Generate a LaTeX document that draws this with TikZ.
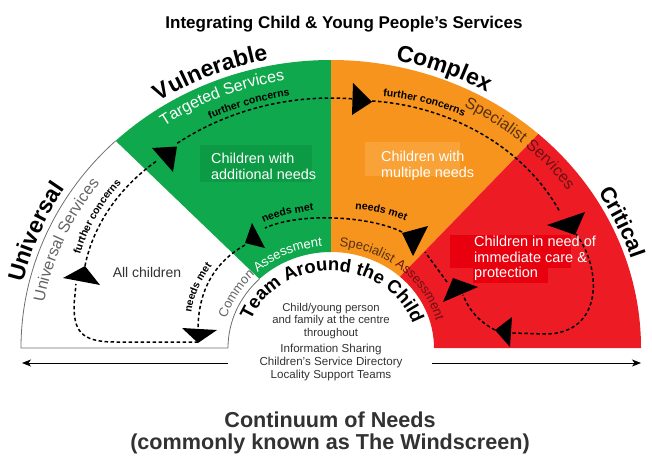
\documentclass[tikz,border=0pt]{standalone}
\usepackage{fontspec}
\setmainfont{Liberation Sans}
\usetikzlibrary{decorations.text,arrows.meta,calc}
\definecolor{cgreen}{RGB}{16,168,76}
\definecolor{cgreenbox}{RGB}{12,154,68}
\definecolor{corange}{RGB}{247,148,29}
\definecolor{corangebox}{RGB}{249,162,55}
\definecolor{cred}{RGB}{237,28,36}
\definecolor{credbox}{RGB}{232,0,14}
\definecolor{cgrayline}{RGB}{110,110,110}
\definecolor{cgraytext}{RGB}{100,100,100}
\definecolor{cdarktext}{RGB}{50,50,50}
\definecolor{cspec}{RGB}{85,48,18}
\definecolor{cspecred}{RGB}{105,18,18}
\newcommand\fBig{\bfseries\fontsize{23}{25}\selectfont}
\newcommand\fCrit{\bfseries\fontsize{22}{24}\selectfont}
\newcommand\fSec{\fontsize{16}{18}\selectfont}
\newcommand\fSm{\bfseries\fontsize{10.5}{12}\selectfont}
\newcommand\fAs{\fontsize{13}{15}\selectfont}
\newcommand\fTeam{\bfseries\fontsize{18.5}{20}\selectfont}
\tikzset{
  flow/.style={line width=1.5pt, dash pattern=on 3.5pt off 2.5pt, black},
  head/.style={fill=black},
  grayline/.style={draw=cgrayline, line width=0.8pt},
  basearrow/.style={line width=0.8pt, -{Stealth[length=9pt,width=7pt,inset=2.5pt]}},
  along/.style={decorate, decoration={text along path, text align=center, text={#1}}},
  boxtext/.style={text=white, font=\fontsize{14.4}{16}\selectfont, align=left, inner sep=0pt, anchor=west},
}
\begin{document}
\begin{tikzpicture}[x=1pt,y=1pt]
\useasboundingbox (0,0) rectangle (652,-455);
\coordinate (C) at (331,-348);

% sectors
\fill[cgreen] ($(C)+(134:310 and 288)$) arc[start angle=134,end angle=90,x radius=310,y radius=288]
  -- ($(C)+(90:103 and 96)$) arc[start angle=90,end angle=134,x radius=103,y radius=96] -- cycle;
\fill[corange] ($(C)+(90:310 and 288)$) arc[start angle=90,end angle=48,x radius=310,y radius=288]
  -- ($(C)+(48:103 and 96)$) arc[start angle=48,end angle=90,x radius=103,y radius=96] -- cycle;
\fill[cred] ($(C)+(48:310 and 288)$) arc[start angle=48,end angle=0,x radius=310,y radius=288]
  -- ($(C)+(0:103 and 96)$) arc[start angle=0,end angle=48,x radius=103,y radius=96] -- cycle;
\draw[grayline] ($(C)+(134:310 and 288)$) arc[start angle=134,end angle=180,x radius=310,y radius=288]
  -- ($(C)+(180:103 and 96)$) arc[start angle=180,end angle=134,x radius=103,y radius=96];

% boxes behind sector texts
\fill[cgreenbox] (200,-145) rectangle (312,-182);
\fill[corangebox] (365,-142) rectangle (460,-176);
\fill[credbox] (450,-235) rectangle (571,-268);
\fill[credbox] (473,-268) rectangle (548,-283);

% base arrows
\coordinate (la1) at (228,-363); \coordinate (la2) at (22,-363);
\coordinate (ra1) at (432,-363); \coordinate (ra2) at (641,-363);
\draw[basearrow] (la1) -- (la2);
\draw[basearrow] (ra1) -- (ra2);

% outer category labels
\path[along={|\fBig|Universal}] ($(C)+(187.5:316 and 294)$) arc[start angle=187.5,end angle=127.5,x radius=316,y radius=294];
\path[along={|\fBig|Vulnerable}] ($(C)+(142.5:316 and 294)$) arc[start angle=142.5,end angle=82.5,x radius=316,y radius=294];
\path[along={|\fBig|Complex}] ($(C)+(99:316 and 294)$) arc[start angle=99,end angle=39,x radius=316,y radius=294];
\path[along={|\fCrit|Critical}] ($(C)+(54.5:315 and 293)$) arc[start angle=54.5,end angle=-5.5,x radius=315,y radius=293];

% service labels
\path[along={|\fSec\color{cgraytext}|Universal Services}] ($(C)+(197:291 and 271)$) arc[start angle=197,end angle=117,x radius=291,y radius=271];
\path[along={|\fSec\color{white}|Targeted Services}] ($(C)+(152.6:291 and 271)$) arc[start angle=152.6,end angle=72.6,x radius=291,y radius=271];
\path[along={|\fSec\color{cspec}|Specialist |\fSec\color{cspecred}|Services}] ($(C)+(88.5:291 and 271)$) arc[start angle=88.5,end angle=8.5,x radius=291,y radius=271];

% assessment labels
\path[along={|\fAs\color{cgraytext}|Common |\fAs\color{white}|Assessment}] ($(C)+(179.5:109 and 102)$) arc[start angle=179.5,end angle=79.5,x radius=109,y radius=102];
\path[along={|\fAs\color{cspec}|Specialist |\fAs\color{cspecred}|Assessment}] ($(C)+(100:109 and 102)$) arc[start angle=100,end angle=0,x radius=109,y radius=102];
\path[along={|\fTeam|Team Around the Child}] ($(C)+(175:86 and 77)$) arc[start angle=175,end angle=2,x radius=86,y radius=77];

% flow labels
\path[along={|\fSm|further concerns}] (79,-258) .. controls (86,-232) and (102,-203) .. (124,-180);
\path[along={|\fSm|further concerns}] ($(C)+(120:273 and 255)$) arc[start angle=120,end angle=95,x radius=273,y radius=255];
\path[along={|\fSm|further concerns}] (374,-96) .. controls (405,-97) and (440,-105) .. (472,-120);
\path[along={|\fSm|needs met}] (258,-226) .. controls (275,-216) and (295,-212) .. (320,-210);
\path[along={|\fSm|needs met}] (348,-209) .. controls (370,-209) and (392,-214) .. (412,-224);
\path[along={|\fSm|needs met}] (191,-316) .. controls (193,-297) and (200,-280) .. (214,-263);

% flow loop coordinates
\coordinate (pI) at (198,-342);
\coordinate (pA0) at (76,-284);
\coordinate (pA) at (85,-266);
\coordinate (pB0) at (158,-160);
\coordinate (pC) at (372,-101);
\coordinate (pD0) at (560,-212);
\coordinate (pD) at (576,-234);
\coordinate (pE0) at (512,-333);
\coordinate (pE) at (495,-330);
\coordinate (pF0) at (463,-295);
\coordinate (pF) at (447,-282);
\coordinate (pG0) at (425,-252);
\coordinate (pG) at (402,-232);
\coordinate (pH0) at (265,-228);
\coordinate (pH) at (245,-245);
\coordinate (pI0) at (198,-330);

\draw[flow] (pI) -- (115,-342) .. controls (80,-342) and (74,-330) .. (74,-305) -- (pA0);
\draw[flow] (pA) .. controls (92,-230) and (115,-190) .. (pB0);
\draw[flow] ($(C)+(125:268 and 250)$) arc[start angle=125,end angle=85.5,x radius=268,y radius=250];
\draw[flow] (pC) .. controls (440,-105) and (520,-140) .. (pD0);
\draw[flow] (pD) .. controls (602,-268) and (604,-334) .. (545,-334) -- (pE0);
\draw[flow] (pE) .. controls (480,-322) and (470,-312) .. (pF0);
\draw[flow] (pF) -- (pG0);
\draw[flow] (pG) .. controls (370,-216) and (300,-212) .. (pH0);
\draw[flow] (pH) .. controls (215,-262) and (198,-290) .. (pI0);

% arrow heads
\fill[head] (63,-278) -- (85,-266) -- (100,-285) -- cycle;
\fill[head] (152,-148) -- (177,-146.5) -- (173,-172) -- cycle;
\fill[head] (353,-83) -- (372,-102) -- (352,-115) -- cycle;
\fill[head] (547,-225) -- (585,-212) -- (575,-235) -- cycle;
\fill[head] (495,-330) -- (512,-317) -- (510,-347) -- cycle;
\fill[head] (443,-302) -- (453,-278) -- (478,-287) -- cycle;
\fill[head] (402,-233) -- (428,-226) -- (413,-256) -- cycle;
\fill[head] (245,-243) -- (252,-223) -- (265,-248) -- cycle;
\fill[head] (182,-328) -- (217,-330) -- (198,-343) -- cycle;

% texts
\node[anchor=base, font=\bfseries\fontsize{17}{20}\selectfont] (title) at (344,-28.5) {Integrating Child \& Young People’s Services};
\node[boxtext] (addl) at (211,-166) {Children with\\additional needs};
\node[boxtext] (mult) at (381,-166) {Children with\\multiple needs};
\node[boxtext, font=\fontsize{14.5}{15.5}\selectfont] (crit) at (474,-258.5) {Children in need of\\immediate care \&\\protection};
\node[text=cdarktext, font=\fontsize{14}{16}\selectfont, inner sep=0pt] (allc) at (147,-272) {All children};
\node[text=cdarktext, font=\fontsize{11.3}{12.3}\selectfont, align=center, inner sep=0pt] (fam) at (331,-321) {Child/young person\\and family at the centre\\throughout};
\node[text=cdarktext, font=\fontsize{11.6}{12.8}\selectfont, align=center, inner sep=0pt] (info) at (331,-362.5) {Information Sharing\\Children’s Service Directory\\Locality Support Teams};
\node[anchor=base, text=cdarktext, font=\bfseries\fontsize{21.6}{24}\selectfont] (cont) at (330,-427.5) {Continuum of Needs};
\node[anchor=base, text=cdarktext, font=\bfseries\fontsize{21.6}{24}\selectfont] (wind) at (330,-449) {(commonly known as The Windscreen)};
\end{tikzpicture}
\end{document}
